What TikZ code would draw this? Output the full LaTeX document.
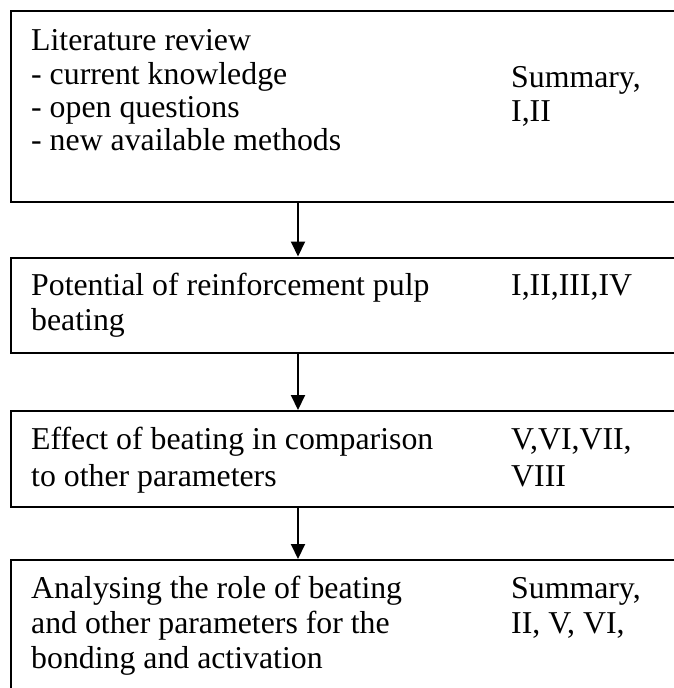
\documentclass[tikz,border=0pt]{standalone}
\usepackage{fontspec}
\setmainfont{Liberation Serif}
\usetikzlibrary{arrows.meta}
\begin{document}
\begin{tikzpicture}[x=1pt,y=1pt,
  box/.style={draw=black, line width=2pt, minimum width=720pt, anchor=north west, inner sep=0pt},
  txt/.style={anchor=base west, inner sep=0pt, font=\fontsize{31.8}{36}\selectfont},
  arr/.style={line width=2pt, -{Triangle[width=14pt,length=15pt]}}]
\useasboundingbox (0,0) rectangle (674,-688);
\node[box, minimum height=190.5pt] (b1) at (9.5,-10) {};
\node[box, minimum height=95.5pt] (b2) at (9.5,-256.5) {};
\node[box, minimum height=95.5pt] (b3) at (9.5,-410) {};
\node[box, minimum height=160pt] (b4) at (9.5,-559) {};
\coordinate (ax) at (298,0);
\draw[arr] (b1.south -| ax) -- (b2.north -| ax);
\draw[arr] (b2.south -| ax) -- (b3.north -| ax);
\draw[arr] (b3.south -| ax) -- (b4.north -| ax);
% box 1
\node[txt] (t11) at (31,-50) {Literature review};
\node[txt] (t12) at (31,-84) {- current knowledge};
\node[txt] (t13) at (31,-117) {- open questions};
\node[txt] (t14) at (31,-150) {- new available methods};
\node[txt] (r11) at (511,-87) {Summary,};
\node[txt] (r12) at (511,-121) {I,II};
% box 2
\node[txt] (t21) at (31,-295) {Potential of reinforcement pulp};
\node[txt] (t22) at (31,-330) {beating};
\node[txt] (r21) at (511,-295) {I,II,III,IV};
% box 3
\node[txt] (t31) at (31,-449) {Effect of beating in comparison};
\node[txt] (t32) at (31,-486) {to other parameters};
\node[txt] (r31) at (511,-449) {V,VI,VII,};
\node[txt] (r32) at (511,-486) {VIII};
% box 4
\node[txt] (t41) at (31,-598) {Analysing the role of beating};
\node[txt] (t42) at (31,-633) {and other parameters for the};
\node[txt] (t43) at (31,-668) {bonding and activation};
\node[txt] (r41) at (511,-598) {Summary,};
\node[txt] (r42) at (511,-633) {II, V, VI,};
\end{tikzpicture}
\end{document}
